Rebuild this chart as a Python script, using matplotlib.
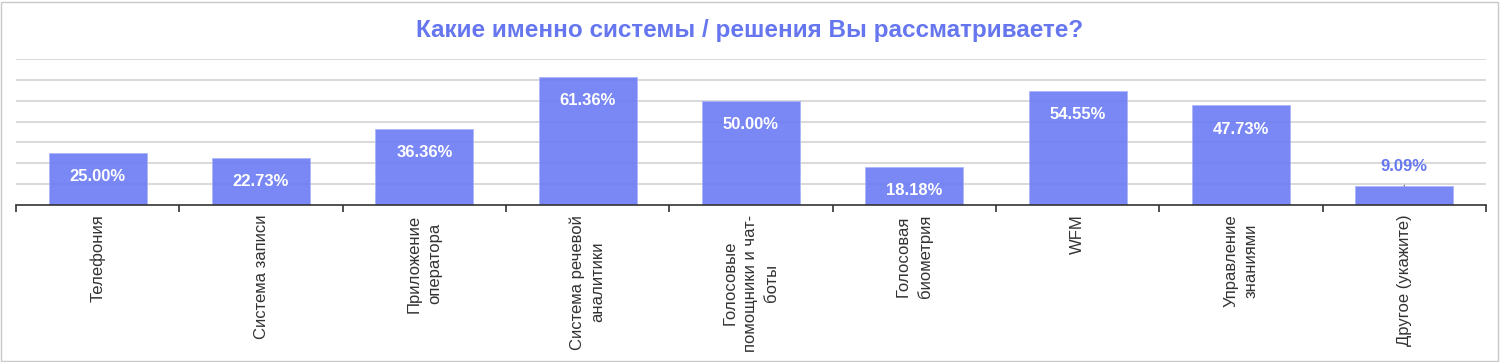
import matplotlib
matplotlib.use('Agg')
import matplotlib.pyplot as plt
import numpy as np
from matplotlib.patches import Rectangle

plt.rcParams['font.family'] = ['Liberation Sans', 'DejaVu Sans']

# данные
categories = ['Телефония', 'Система записи', 'Приложение\nоператора',
              'Система речевой\nаналитики', 'Голосовые\nпомощники и чат-\nботы',
              'Голосовая\nбиометрия', 'WFM', 'Управление\nзнаниями', 'Другое (укажите)']
values = [25.00, 22.73, 36.36, 61.36, 50.00, 18.18, 54.55, 47.73, 9.09]
title = 'Какие именно системы / решения Вы рассматриваете?'

bar_color = '#6a7bf3'
title_color = '#6576ef'

fig = plt.figure(figsize=(15, 3.62), dpi=100)
ax = fig.add_axes([16/1500, 1 - 205/362, 1470/1500, 146/362])

x = np.arange(len(categories))
bars = ax.bar(x, values, width=0.6, color=bar_color, alpha=0.9,
              edgecolor='#aab4f8', linewidth=0.6, zorder=3)
ax.set_axisbelow(True)

ax.set_xlim(-0.5, len(categories) - 0.5)
ax.set_ylim(0, 70)
ax.set_yticks(np.arange(10, 71, 10))
ax.yaxis.grid(True, color='#d3d3d3', linewidth=1.2)
ax.tick_params(axis='y', left=False, labelleft=False)

for s in ['top', 'right', 'left']:
    ax.spines[s].set_visible(False)
ax.spines['bottom'].set_color('#333333')
ax.spines['bottom'].set_linewidth(1.2)
ax.spines['bottom'].set_zorder(5)

# подписи категорий
ax.set_xticks(x)
ax.set_xticklabels(categories, rotation=90, fontsize=12, color='#333333',
                   va='top', ha='center', multialignment='center')
ax.tick_params(axis='x', length=0, pad=7)
ax.set_xticks(np.arange(-0.5, len(categories)), minor=True)
ax.tick_params(axis='x', which='minor', length=5, width=1.2, color='#333333', direction='out')
for t in ax.get_xticklabels():
    t.set_linespacing(1.45)

# значения
for b, v in zip(bars, values):
    cx = b.get_x() + b.get_width() / 2
    if v > 15:
        ax.annotate(f'{v:.2f}%', (cx, v), xytext=(0, -17), textcoords='offset points',
                    ha='center', va='center', color='white', fontsize=12,
                    fontweight='bold', zorder=4)
    else:
        ax.annotate(f'{v:.2f}%', (cx, v), xytext=(0, 14), textcoords='offset points',
                    ha='center', va='center', color=title_color, fontsize=12,
                    fontweight='bold', zorder=4,
                    arrowprops=dict(arrowstyle='-', color='#666666', lw=0.8,
                                    shrinkA=6, shrinkB=0))

fig.text(0.5, 1 - 30/362, title, ha='center', va='center', fontsize=17.5,
         fontweight='bold', color=title_color)

fig.patches.append(Rectangle((1/1500, 1/362), 1497/1500, 359/362, transform=fig.transFigure,
                             fill=False, edgecolor='#c8c8c8', linewidth=1))

fig.savefig('out.png', dpi=100)
